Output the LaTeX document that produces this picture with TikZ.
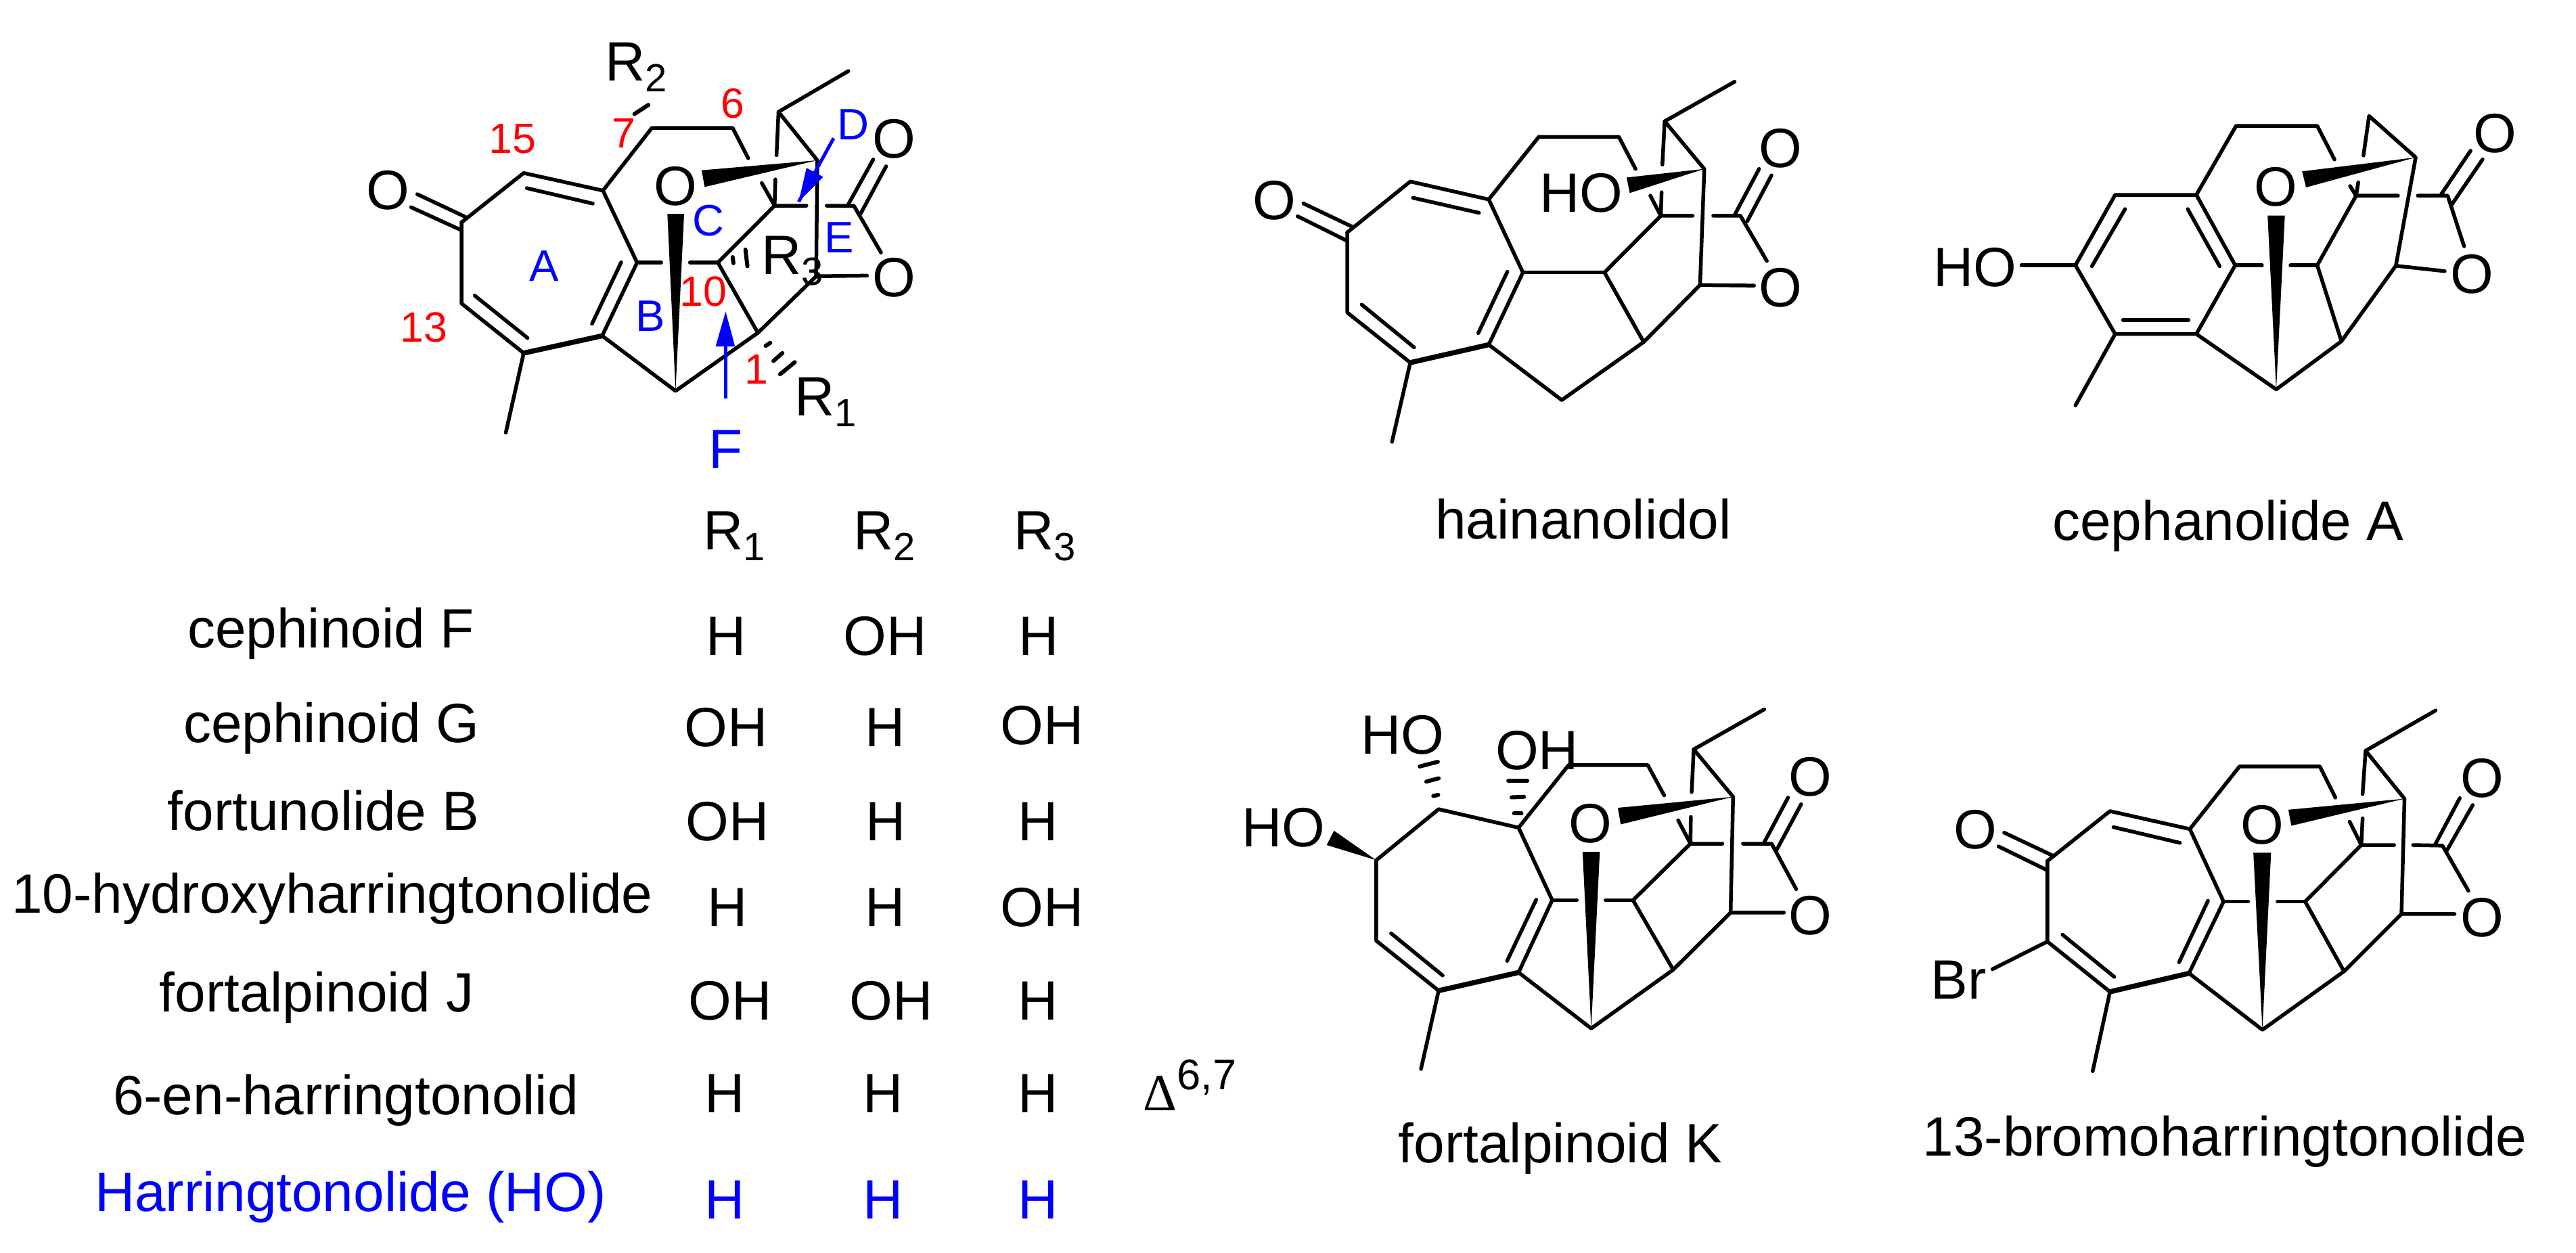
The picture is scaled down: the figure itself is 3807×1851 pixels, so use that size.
\documentclass[tikz,border=0pt]{standalone}
\usepackage{fontspec}
\setmainfont{Liberation Sans}
\newfontfamily\symb{Liberation Serif}
\definecolor{pureblue}{RGB}{0,0,255}
\definecolor{purered}{RGB}{255,0,0}
\tikzset{
  bond/.style={line width=.055cm,line join=round,line cap=round},
  heavy/.style={line width=.075cm,line join=round,line cap=round},
  hashb/.style={line width=.06cm,line cap=round},
  wedgeb/.style={fill=black,draw=none},
  atom/.style={inner sep=0pt,font=\fontsize{23.3}{28}\selectfont},
  basetxt/.style={inner sep=0pt,anchor=base,font=\fontsize{23.3}{28}\selectfont},
  rlabel/.style={inner sep=0pt,anchor=base west,font=\fontsize{23.3}{28}\selectfont},
  redno/.style={inner sep=0pt,text=purered,font=\fontsize{17.8}{22}\selectfont},
  ringl/.style={inner sep=0pt,text=pureblue,font=\fontsize{18.5}{22}\selectfont},
  arrowb/.style={line width=.05cm,draw=pureblue},
  arrowh/.style={fill=pureblue,draw=none},
}
\newcommand\Rs[1]{R\raisebox{-0.16cm}{\fontsize{16.5}{20}\selectfont #1}}
\newcommand\pts[1]{\foreach \n/\x/\y in {#1} {\coordinate (\n) at (\x,\y);}}
% bonds shared by every skeleton
\newcommand\lactone{
  \draw[bond] (c3)--(c8)--(c9)--(e9);
  \draw[bond] (c5)--(c11)--(c12)--(c10);
  \draw[bond] (c12)--(c13)--(e13);
  \draw[bond] (c10)--(c14)--(g3);
  \draw[bond] (g4)--(c15)--(e15);
  \draw[bond] (da)--(db);
  \draw[bond] (dc)--(dd);
  \draw[bond] (s1)--(c14)--(s2);
  \draw[bond] (c13)--(c16)--(c17)--(e17);
  \fill[wedgeb] (c16)--(wa)--(wb)--cycle;
}
\newcommand\bridge{
  \draw[bond] (c4)--(g1);
  \draw[bond] (g2)--(c10);
  \fill[wedgeb] (c11)--(wc)--(wd)--cycle;
}
\begin{document}
\begin{tikzpicture}[x=.01cm,y=-.01cm]
\useasboundingbox (0,0) rectangle (3807,1851);

% ---------- parent skeleton
\begin{scope}[shift={(480,20)},x=.00574cm,y=-.004464cm,name prefix=p-]
\pts{c1/352/690,c2/512/527,c3/716/585,c4/804/823,c5/714/1065,c6/512/1122,c7/352/958,
 oa/222/640,ob/350/715,oc/238/597,od/362/672,ia/520/577,ib/690/628,ic/763/822,id/688/1025,ie/522/1072,if/386/932,me/466/1385,
 c8/842/378,c9/1050/378,e9/1090/478,g1/866/823,g2/940/823,c10/1012/823,c11/903/1247,c12/1115/1055,c13/1265/868,e13/1396/866,
 c14/1158/635,g3/1240/635,g4/1292/635,c15/1362/635,e15/1432/790,da/1348/630,db/1412/482,dc/1380/660,dd/1445/505,
 s1/1125/560,s2/1160/548,c16/1268/485,c17/1168/325,e17/1163/468,e18/1348/190,
 wa/970/518,wb/978/573,wc/882/662,wd/925/662,
 h2a/797/332,h2b/833/302,h3a/1050/805,h3b/1052/825,h3c/1083/780,h3d/1088/835,
 h1a/1135/1098,h1b/1147/1088,h1c/1155/1148,h1d/1178/1122,h1e/1172/1192,h1f/1210/1152,
 fa/1032/1272,fb/1032/985,fc/1006/1100,fd/1056/1100,dta/1310/412,dtb/1220/622,dtc/1240/510,dtd/1283/540}
\lactone\bridge
\draw[bond] (c1)--(c2)--(c3)--(c4)--(c5);
\draw[heavy] (c5)--(c6);
\draw[bond] (c6)--(c7)--(c1);
\draw[bond] (oa)--(ob); \draw[bond] (oc)--(od);
\draw[bond] (ia)--(ib); \draw[bond] (ic)--(id); \draw[bond] (ie)--(if);
\draw[bond] (c6)--(me);
\draw[bond] (c17)--(e18);
\draw[hashb] (h2a)--(h2b); \draw[hashb] (h3a)--(h3b); \draw[hashb] (h3c)--(h3d);
\draw[hashb] (h1a)--(h1b); \draw[hashb] (h1c)--(h1d); \draw[hashb] (h1e)--(h1f);
\node[atom] (o1) at (162,585) {O};
\node[atom] (o2) at (903,570) {O};
\node[atom] (o3) at (1466,415) {O};
\node[atom] (o4) at (1466,872) {O};
\node[rlabel] (r2) at (720,222) {\Rs{2}};
\node[rlabel] (r3) at (1123,862) {\Rs{3}};
\node[rlabel] (r1) at (1208,1330) {\Rs{1}};
\node[redno] (n15) at (483,415) {15};
\node[redno] (n7) at (770,395) {7};
\node[redno] (n6) at (1050,297) {6};
\node[redno] (n13) at (255,1038) {13};
\node[redno] (n10) at (975,918) {10};
\node[redno] (n1) at (1112,1175) {1};
\node[ringl] (la) at (565,835) {A};
\node[ringl] (lb) at (838,1000) {B};
\node[ringl] (lc) at (987,685) {C};
\node[ringl] (ld) at (1360,368) {D};
\node[ringl] (le) at (1325,740) {E};
\node[atom,text=pureblue] (lf) at (1032,1440) {F};
\draw[arrowb] (fa)--(fc-|fa);
\fill[arrowh] (fb)--(fc)--(fd)--cycle;
\draw[arrowb] (dta)--(dtb);
\fill[arrowh] (dtb)--(dtc)--(dtd)--cycle;
\end{scope}

% ---------- hainanolidol
\begin{scope}[shift={(1800,120)},x=.00574cm,y=-.003954cm,name prefix=h-]
\pts{c1/333/565,c2/495/375,c3/697/442,c4/785/715,c5/697/985,c6/495/1052,c7/333/865,
 oa/205/505,ob/330/595,oc/220/457,od/347/545,ia/502/436,ib/672/492,ic/745/712,id/670/942,ie/505/995,if/370/835,me/448/1348,
 c8/826/208,c9/1032/208,e9/1075/328,c10/995/715,c11/885/1192,c12/1096/975,c13/1241/762,e13/1380/764,
 c14/1140/503,g3/1222/503,g4/1275/503,c15/1345/503,e15/1413/672,da/1330/500,db/1393/328,dc/1362/525,dd/1425/352,
 s1/1113/428,s2/1142/415,c16/1252/328,c17/1150/150,e17/1144/312,e18/1330/2,wa/1052/360,wb/1060/418}
\lactone
\draw[bond] (c4)--(c10);
\draw[bond] (c1)--(c2)--(c3)--(c4)--(c5);
\draw[heavy] (c5)--(c6);
\draw[bond] (c6)--(c7)--(c1);
\draw[bond] (oa)--(ob); \draw[bond] (oc)--(od);
\draw[bond] (ia)--(ib); \draw[bond] (ic)--(id); \draw[bond] (ie)--(if);
\draw[bond] (c6)--(me);
\draw[bond] (c17)--(e18);
\node[atom] (o1) at (145,445) {O};
\node[atom] (ho) at (935,418) {HO};
\node[atom] (o3) at (1448,250) {O};
\node[atom] (o4) at (1448,772) {O};
\end{scope}

% ---------- cephanolide A
\begin{scope}[shift={(2780,120)},x=.00638cm,y=-.003954cm,name prefix=c-]
\pts{c1/450/688,c2/542/425,c3/730/425,c4/820/688,c5/730/945,c6/542/945,
 ia/565/478,ib/488/692,ic/710/478,id/784/692,ie/560/893,if/712/893,hob/325/688,me/450/1212,
 c8/822/167,c9/1010/167,e9/1050/293,g1/882/688,g2/948/688,c10/1010/688,c11/915/1152,c12/1066/972,c13/1192/690,e13/1305/710,
 c14/1100/428,g3/1197/428,g4/1243/428,c15/1312/428,e15/1350/617,da/1297/423,db/1365/260,dc/1322/460,dd/1393/292,
 s1/1086/392,s2/1105/378,c16/1238/285,c17/1130/130,e17/1117/278,wa/975/337,wb/984/397,wc/895/502,wd/935/502}
\lactone\bridge
\draw[bond] (c1)--(c2)--(c3)--(c4)--(c5)--(c6)--(c1);
\draw[bond] (ia)--(ib); \draw[bond] (ic)--(id); \draw[bond] (ie)--(if);
\draw[bond] (hob)--(c1);
\draw[bond] (c6)--(me);
\node[atom] (ho) at (218,695) {HO};
\node[atom] (o2) at (914,395) {O};
\node[atom] (o3) at (1421,195) {O};
\node[atom] (o4) at (1368,722) {O};
\end{scope}

% ---------- fortalpinoid K
\begin{scope}[shift={(1800,980)},x=.00606cm,y=-.00408cm,name prefix=k-]
\pts{c1/386/715,c2/538/530,c3/733/597,c4/815/860,c5/733/1122,c6/538/1188,c7/386/1007,
 ic/776/858,id/705/1080,ie/548/1133,if/422/980,me/495/1472,
 c8/855/370,c9/1048/370,e9/1088/480,g1/875/860,g2/945/860,c10/1012/860,c11/910/1325,c12/1110/1112,c13/1250/905,e13/1380/905,
 c14/1152/655,g3/1230/655,g4/1280/655,c15/1350/655,e15/1410/820,da/1332/650,db/1390/488,dc/1362/678,dd/1422/512,
 s1/1122/570,s2/1153/558,c16/1256/485,c17/1160/313,e17/1155/468,e18/1332/168,
 wa/975/525,wb/982/585,wc/889/685,wd/931/685,we/283/608,wf/265/660,
 ha/525/482,hb/537/478,hc/508/430,hd/538/418,he/492/375,hf/536/358,
 hg/722/545,hh/740/545,hi/716/487,hj/746/485,hk/708/427,hl/754/427}
\lactone\bridge
\draw[bond] (c1)--(c2)--(c3)--(c4)--(c5);
\draw[heavy] (c5)--(c6);
\draw[bond] (c6)--(c7)--(c1);
\draw[bond] (ic)--(id); \draw[bond] (ie)--(if);
\draw[bond] (c6)--(me);
\draw[bond] (c17)--(e18);
\fill[wedgeb] (c1)--(we)--(wf)--cycle;
\draw[hashb] (ha)--(hb); \draw[hashb] (hc)--(hd); \draw[hashb] (he)--(hf);
\draw[hashb] (hg)--(hh); \draw[hashb] (hi)--(hj); \draw[hashb] (hk)--(hl);
\node[atom] (ho1) at (450,260) {HO};
\node[atom] (oh) at (778,318) {OH};
\node[atom] (ho2) at (160,597) {HO};
\node[atom] (o2) at (908,582) {O};
\node[atom] (o3) at (1445,412) {O};
\node[atom] (o4) at (1445,915) {O};
\end{scope}

% ---------- 13-bromoharringtonolide
\begin{scope}[shift={(2780,980)},x=.00638cm,y=-.00408cm,name prefix=b-]
\pts{c1/385/718,c2/530/537,c3/715/602,c4/793/865,c5/713/1125,c6/530/1192,c7/385/1010,
 oa/272/665,ob/383/750,oc/285/615,od/400/700,ia/538/595,ib/692/652,ic/757/862,id/690/1085,ie/540/1138,if/420/985,brb/258/1110,me/490/1480,
 c8/830/375,c9/1016/375,e9/1052/488,g1/850/865,g2/918/865,c10/982/865,c11/883/1330,c12/1072/1118,c13/1205/910,e13/1328/910,
 c14/1112/660,g3/1188/660,g4/1232/660,c15/1300/662,e15/1360/826,da/1283/658,db/1340/490,dc/1310/680,dd/1370/515,
 s1/1085/575,s2/1115/563,c16/1212/492,c17/1122/318,e17/1115/475,e18/1284/172,
 wa/943/532,wb/950/590,wc/862/688,wd/903/688}
\lactone\bridge
\draw[bond] (c1)--(c2)--(c3)--(c4)--(c5);
\draw[heavy] (c5)--(c6);
\draw[bond] (c6)--(c7)--(c1);
\draw[bond] (oa)--(ob); \draw[bond] (oc)--(od);
\draw[bond] (ia)--(ib); \draw[bond] (ic)--(id); \draw[bond] (ie)--(if);
\draw[bond] (c7)--(brb);
\draw[bond] (c6)--(me);
\draw[bond] (c17)--(e18);
\node[atom] (o1) at (218,603) {O};
\node[atom] (br) at (180,1148) {Br};
\node[atom] (o2) at (882,587) {O};
\node[atom] (o3) at (1392,417) {O};
\node[atom] (o4) at (1392,922) {O};
\end{scope}

% ---------- table
\node[rlabel] (hr1) at (1039,812) {\Rs{1}};
\node[rlabel] (hr2) at (1261,812) {\Rs{2}};
\node[rlabel] (hr3) at (1498,812) {\Rs{3}};

\node[basetxt] (n1) at (489,957) {cephinoid F};
\node[basetxt] (n2) at (490,1097) {cephinoid G};
\node[basetxt] (n3) at (478,1227) {fortunolide B};
\node[basetxt] (n4) at (491,1349) {10-hydroxyharringtonolide};
\node[basetxt] (n5) at (468,1495) {fortalpinoid J};
\node[basetxt] (n6) at (511,1647) {6-en-harringtonolid};
\node[basetxt,text=pureblue] (n7) at (518,1790) {Harringtonolide (HO)};

\node[basetxt] (a1) at (1073,968) {H};
\node[basetxt] (a2) at (1308,968) {OH};
\node[basetxt] (a3) at (1535,968) {H};
\node[basetxt] (b1) at (1073,1103) {OH};
\node[basetxt] (b2) at (1308,1103) {H};
\node[basetxt] (b3) at (1540,1100) {OH};
\node[basetxt] (c1) at (1075,1242) {OH};
\node[basetxt] (c2) at (1309,1242) {H};
\node[basetxt] (c3) at (1534,1242) {H};
\node[basetxt] (d1) at (1075,1369) {H};
\node[basetxt] (d2) at (1308,1369) {H};
\node[basetxt] (d3) at (1540,1369) {OH};
\node[basetxt] (e1) at (1079,1507) {OH};
\node[basetxt] (e2) at (1317,1507) {OH};
\node[basetxt] (e3) at (1534,1507) {H};
\node[basetxt] (f1) at (1071,1644) {H};
\node[basetxt] (f2) at (1305,1644) {H};
\node[basetxt] (f3) at (1534,1644) {H};
\node[basetxt,text=pureblue] (g1) at (1071,1801) {H};
\node[basetxt,text=pureblue] (g2) at (1305,1801) {H};
\node[basetxt,text=pureblue] (g3) at (1534,1801) {H};

\node[inner sep=0pt,anchor=base west] (delta) at (1689,1641)
  {{\symb\fontsize{22}{24}\selectfont Δ}\raisebox{.31cm}{\fontsize{18}{22}\selectfont 6,7}};

% ---------- captions
\node[basetxt] (t1) at (2340,796) {hainanolidol};
\node[basetxt] (t2) at (3293,798) {cephanolide A};
\node[basetxt] (t3) at (2306,1718) {fortalpinoid K};
\node[basetxt] (t4) at (3288,1708) {13-bromoharringtonolide};
\end{tikzpicture}
\end{document}
